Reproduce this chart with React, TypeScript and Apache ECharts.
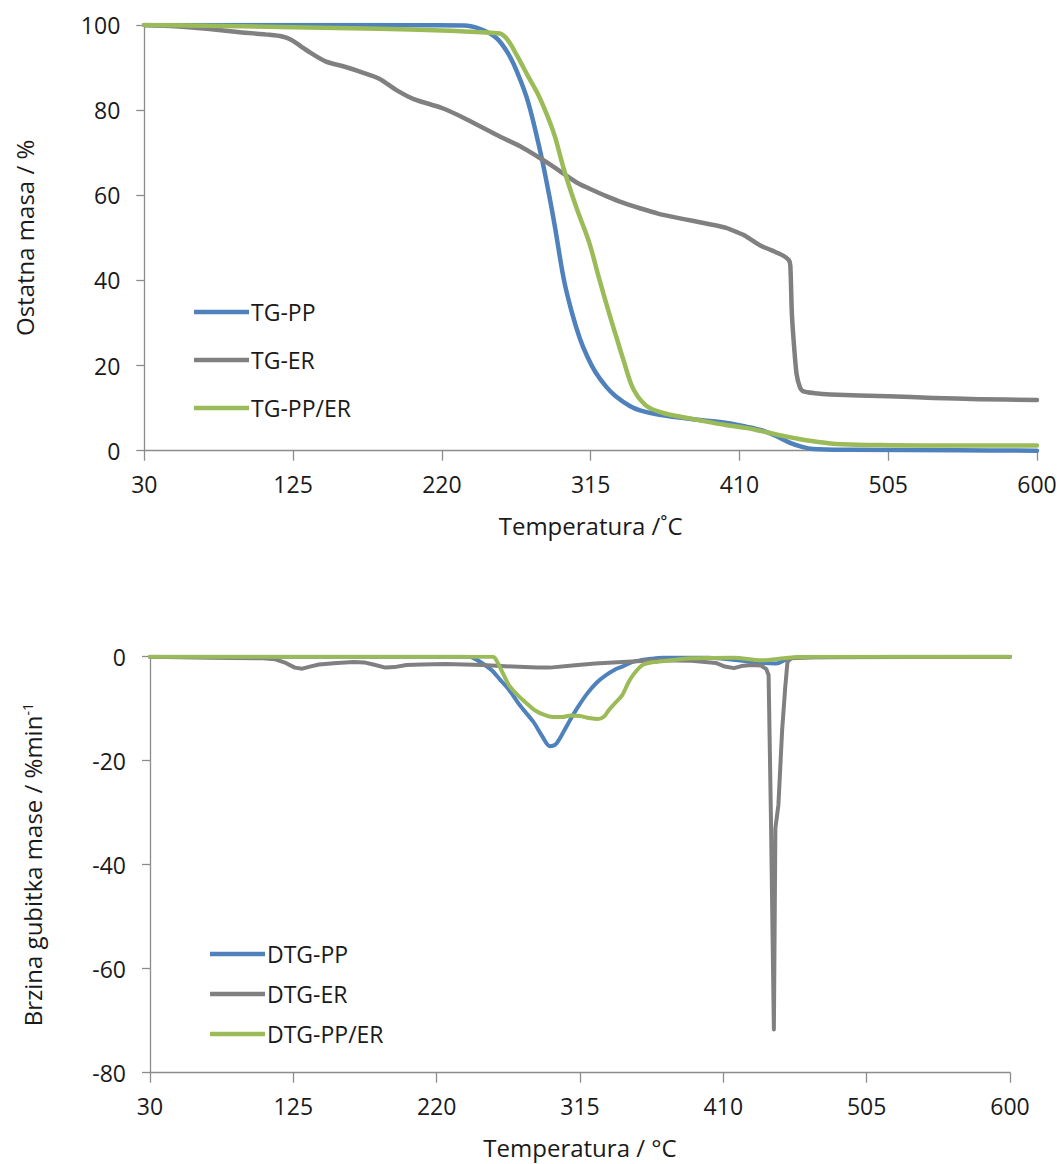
import React, { useEffect, useRef } from "react";
import * as echarts from "echarts";

// ---------- Top chart: TG (residual mass, %) ----------
const tgPP_T = [30, 100, 180, 234, 245, 255, 262, 268, 275, 283, 288, 292, 298, 303, 308, 313, 318, 325, 331, 340, 347, 358, 369, 385, 402, 415, 424, 433, 442, 450, 457, 480, 550, 600];
const tgPP_Y = [100, 100, 100, 99.9, 99.0, 96.9, 93.5, 89, 82, 70, 61, 53, 40, 32.5, 26.5, 22, 18.5, 15, 12.8, 10.5, 9.4, 8.5, 7.9, 7.2, 6.5, 5.6, 4.8, 3.5, 1.9, 0.9, 0.4, 0.2, 0.1, 0];

const tgER_T = [30, 50, 70, 91, 110, 118, 124, 130, 136, 146, 158, 169, 180, 191, 202, 220, 235, 257, 270, 281, 290, 298, 306, 314, 325, 336, 347, 358, 369, 380, 391, 402, 408, 413, 419, 424, 431, 437, 441.5, 442.5, 443.5, 445, 446.5, 448.5, 450.5, 458, 468, 505, 534, 563, 600];
const tgER_Y = [100, 99.7, 99.1, 98.3, 97.7, 97.3, 96.5, 95, 93.5, 91.4, 90.2, 88.9, 87.4, 84.7, 82.6, 80.5, 78, 73.8, 71.5, 69.1, 67, 65, 63, 61.6, 59.8, 58.2, 56.9, 55.7, 54.8, 54, 53.2, 52.3, 51.4, 50.6, 49.2, 48.1, 47, 46, 44.8, 43.5, 32, 24, 18, 15, 14, 13.5, 13.2, 12.8, 12.4, 12.1, 11.9];

const tgMix_T = [30, 60, 125, 180, 220, 245, 257, 262, 268, 275, 281, 287, 292, 298, 306, 314, 320, 327, 332, 336, 341, 345, 350, 354, 362, 369, 385, 402, 415, 424, 435, 446, 457, 468, 485, 505, 550, 600];
const tgMix_Y = [100, 99.9, 99.5, 99.1, 98.7, 98.3, 98.0, 96.5, 92.8, 88, 84, 79, 74, 66, 57, 49, 41, 32, 26, 21.2, 15.5, 12.8, 10.7, 9.8, 8.8, 8.2, 7.1, 6.0, 5.3, 4.6, 3.7, 2.9, 2.2, 1.7, 1.4, 1.3, 1.2, 1.2];

// ---------- Bottom chart: DTG (mass loss rate, %/min) ----------
const dtgPP_T = [30, 240, 243, 250, 256.5, 262, 268, 275, 284, 290, 295, 299, 304, 309, 314, 320, 326, 332, 338, 343, 349, 355, 362, 370, 400, 420, 435, 445, 452, 460, 600];
const dtgPP_Y = [0, 0, -0.1, -1.2, -2.6, -4.4, -6.4, -9.3, -12.5, -15.3, -17.2, -16.8, -14.5, -11.9, -9.5, -7, -5, -3.6, -2.5, -1.9, -1.1, -0.7, -0.4, -0.2, -0.2, -0.7, -1.2, -1.3, -0.5, -0.1, 0];

const dtgER_T = [30, 70, 105, 113, 120, 126, 131, 136, 142, 154, 165, 172, 178, 186, 192, 200, 210, 226, 250, 270, 287, 295, 310, 325, 343, 366, 389, 405, 411, 417, 422, 428, 435, 438.5, 440, 441.5, 443.5, 444.5, 446.5, 449, 451, 452.5, 455, 470, 600];
const dtgER_Y = [0, -0.2, -0.3, -0.5, -1.2, -2.1, -2.3, -1.9, -1.5, -1.2, -1.0, -1.1, -1.5, -2.1, -2.0, -1.6, -1.5, -1.4, -1.6, -1.9, -2.1, -2.1, -1.7, -1.3, -1.0, -0.7, -0.8, -1.2, -1.9, -2.2, -1.8, -1.6, -1.7, -2.4, -3.5, -30, -71.7, -33, -28.5, -14, -6, -1, -0.3, -0.1, 0];

const dtgMix_T = [30, 257, 259, 264.6, 268, 274.4, 280.5, 285, 291.4, 297, 303, 309, 315, 321, 327, 331, 334, 338, 343, 347, 350, 354, 357, 362, 366, 389, 417, 435, 453, 470, 600];
const dtgMix_Y = [0, 0, -0.4, -3.6, -5.5, -7.6, -9.2, -10.3, -11.2, -11.6, -11.6, -11.3, -11.4, -11.8, -12.0, -11.5, -10.3, -9, -7.4, -5, -3.6, -2.2, -1.5, -1.1, -1.0, -0.3, -0.2, -0.7, -0.2, 0, 0];

const xTicksInterval = 95;
const xMin = 30;
const xMax = 600;

const topNames = ["TG-PP", "TG-ER", "TG-PP/ER"];
const bottomNames = ["DTG-PP", "DTG-ER", "DTG-PP/ER"];
const colors = ["#4F81BD", "#808080", "#9BBB59"];

const zip = (xs: number[], ys: number[]) => xs.map((x, i) => [x, ys[i]]);

const FONT = "Open Sans";
const TXT = "#1a1a1a";
const AXC = "#8c8c8c";

export default function App() {
  const ref = useRef<HTMLDivElement>(null);
  useEffect(() => {
    if (!ref.current) return;
    const chart = echarts.init(ref.current, undefined, { renderer: "svg" });

    const xAxisCommon = (gridIndex: number, name: string) => ({
      type: "value",
      gridIndex,
      min: xMin,
      max: xMax,
      interval: xTicksInterval,
      name,
      nameLocation: "middle",
      nameGap: 63,
      nameTextStyle: { fontFamily: FONT, fontSize: 24, color: TXT },
      axisLine: { show: true, onZero: false, lineStyle: { color: AXC, width: 1.3 } },
      axisTick: { show: true, length: 10, lineStyle: { color: AXC, width: 1.3 } },
      axisLabel: { margin: 22, fontFamily: FONT, fontSize: 23, color: TXT, showMinLabel: true, showMaxLabel: true, hideOverlap: false },
      splitLine: { show: false },
    });

    const yAxisCommon = (gridIndex: number, min: number, max: number, name: any, nameGap: number, rich?: any) => ({
      type: "value",
      gridIndex,
      min,
      max,
      interval: 20,
      name,
      nameLocation: "middle",
      nameRotate: 90,
      nameGap,
      nameTextStyle: { fontFamily: FONT, fontSize: 24, color: TXT, rich },
      axisLine: { show: true, onZero: false, lineStyle: { color: AXC, width: 1.3 } },
      axisTick: { show: true, length: 8, lineStyle: { color: AXC, width: 1.3 } },
      axisLabel: { margin: 24, fontFamily: FONT, fontSize: 23, color: TXT, showMinLabel: true, showMaxLabel: true },
      splitLine: { show: false },
    });

    const lineSeries = (name: string, data: number[][], color: string, idx: number, smooth: number | boolean, width: number) => ({
      type: "line",
      name,
      xAxisIndex: idx,
      yAxisIndex: idx,
      data,
      symbol: "none",
      showSymbol: false,
      smooth,
      lineStyle: { color, width, cap: "round", join: "round" },
      itemStyle: { color },
      z: 2,
    });

    const legendCommon = {
      orient: "vertical",
      icon: "rect",
      itemWidth: 55,
      itemHeight: 4.5,
      textStyle: { fontFamily: FONT, fontSize: 23, color: TXT, lineHeight: 24, padding: [0, 0, 0, -3] },
      selectedMode: false,
    };

    chart.setOption({
      animation: false,
      backgroundColor: "#ffffff",
      color: colors,
      grid: [
        { left: 144.3, top: 25, width: 892.7, height: 425.7, containLabel: false, outerBoundsMode: "none" },
        { left: 150, top: 656.7, width: 860, height: 416, containLabel: false, outerBoundsMode: "none" },
      ],
      legend: [
        { ...legendCommon, data: topNames, left: 189, top: 295, itemGap: 24 },
        { ...legendCommon, data: bottomNames, left: 205, top: 937, itemGap: 16 },
      ],
      xAxis: [xAxisCommon(0, "Temperatura /˚C"), xAxisCommon(1, "Temperatura / °C")],
      yAxis: [
        yAxisCommon(0, 0, 100, "Ostatna masa / %", 108),
        yAxisCommon(1, -80, 0, "{n|Brzina gubitka mase / %min}{s|-1}", 106, {
          n: { fontFamily: FONT, fontSize: 24, color: TXT },
          s: { fontFamily: FONT, fontSize: 14, color: TXT, verticalAlign: "top", padding: [0, 0, 10, 0] },
        }),
      ],
      series: [
        lineSeries(topNames[0], zip(tgPP_T, tgPP_Y), colors[0], 0, 0.35, 4.5),
        lineSeries(topNames[1], zip(tgER_T, tgER_Y), colors[1], 0, 0.25, 4.5),
        lineSeries(topNames[2], zip(tgMix_T, tgMix_Y), colors[2], 0, 0.35, 4.5),
        lineSeries(bottomNames[0], zip(dtgPP_T, dtgPP_Y), colors[0], 1, 0.3, 4),
        lineSeries(bottomNames[1], zip(dtgER_T, dtgER_Y), colors[1], 1, false, 4),
        lineSeries(bottomNames[2], zip(dtgMix_T, dtgMix_Y), colors[2], 1, 0.3, 4),
      ],
    });
    return () => chart.dispose();
  }, []);

  return (
    <div
      ref={ref}
      style={{ position: "fixed", left: 0, top: 0, width: 1061, height: 1164, background: "#fff" }}
    />
  );
}
